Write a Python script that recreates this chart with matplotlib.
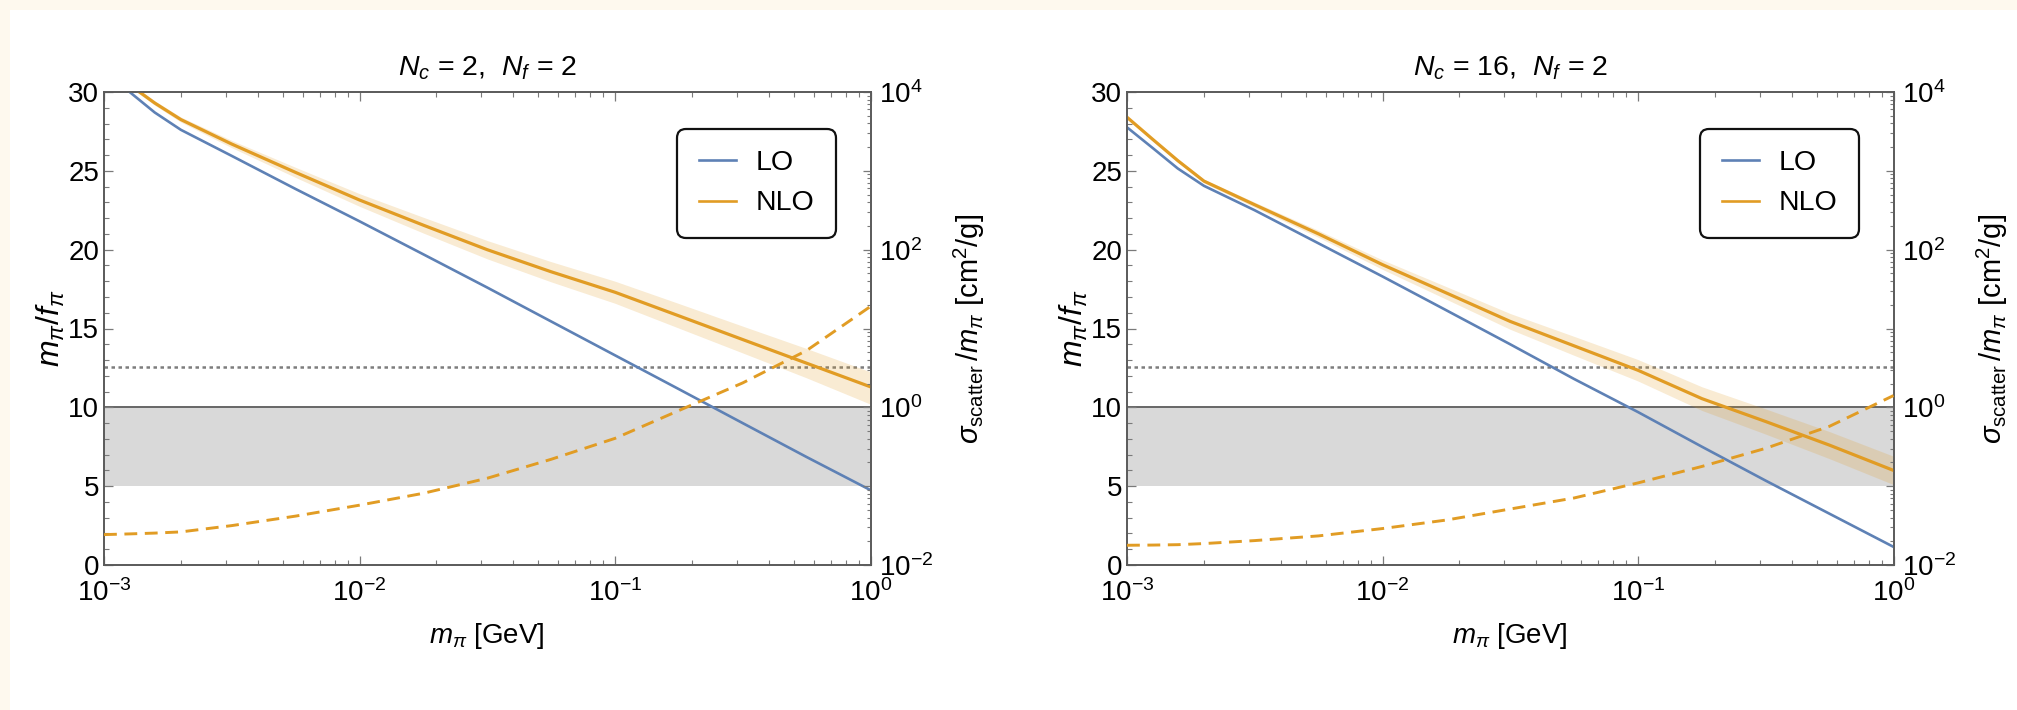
import numpy as np
import matplotlib
matplotlib.use("Agg")
import matplotlib.pyplot as plt
from matplotlib.lines import Line2D
from matplotlib.patches import Rectangle
from matplotlib.ticker import (FixedLocator, LogLocator, MultipleLocator,
                               NullFormatter, FuncFormatter, LogFormatterMathtext)

plt.rcParams["font.family"] = ["Liberation Sans", "DejaVu Sans"]
plt.rcParams["mathtext.fontset"] = "custom"
plt.rcParams["mathtext.rm"] = "Liberation Sans"
plt.rcParams["mathtext.it"] = "Liberation Sans:italic"
plt.rcParams["mathtext.bf"] = "Liberation Sans:bold"

# pion mass grid [GeV]
mass = [1e-3, 1.26e-3, 1.58e-3, 2e-3, 3.16e-3, 5.62e-3, 1e-2, 1.78e-2,
        3.16e-2, 5.62e-2, 0.1, 0.178, 0.316, 0.562, 1.0]

# N_c = 2, N_f = 2
lo_nc2 = [31.4, 30.0, 28.7, 27.6, 25.95, 23.85, 21.8, 19.7, 17.6, 15.45,
          13.3, 11.15, 9.0, 6.85, 4.75]
nlo_nc2 = [31.5, 30.45, 29.3, 28.25, 26.7, 24.9, 23.15, 21.55, 20.0, 18.6,
           17.3, 15.8, 14.3, 12.8, 11.3]
nlo_nc2_low = [31.4, 30.33, 29.16, 28.09, 26.47, 24.58, 22.75, 21.05, 19.42,
               17.96, 16.6, 15.02, 13.45, 11.87, 10.2]
nlo_nc2_high = [31.6, 30.57, 29.44, 28.41, 26.93, 25.22, 23.55, 22.05, 20.58,
                19.24, 18.0, 16.58, 15.15, 13.73, 12.25]
sigma_nc2 = [0.0243, 0.0248, 0.0254, 0.0263, 0.0316, 0.0417, 0.0574, 0.0813,
             0.126, 0.219, 0.404, 0.912, 2.04, 5.25, 19.05]

# N_c = 16, N_f = 2
lo_nc16 = [27.76, 26.45, 25.15, 24.05, 22.5, 20.4, 18.3, 16.15, 14.0, 11.8,
           9.7, 7.5, 5.35, 3.25, 1.15]
nlo_nc16 = [28.4, 27.0, 25.65, 24.35, 22.85, 21.0, 19.05, 17.25, 15.45, 13.9,
            12.35, 10.55, 9.1, 7.6, 6.0]
nlo_nc16_low = [28.32, 26.91, 25.55, 24.23, 22.69, 20.78, 18.75, 16.85, 14.95,
                13.3, 11.67, 9.8, 8.3, 6.74, 5.1]
nlo_nc16_high = [28.48, 27.09, 25.75, 24.47, 23.01, 21.22, 19.35, 17.65, 15.95,
                 14.5, 13.03, 11.3, 9.9, 8.46, 6.9]
sigma_nc16 = [0.0178, 0.0179, 0.0181, 0.0187, 0.0204, 0.0234, 0.0290, 0.0372,
              0.0513, 0.0708, 0.110, 0.178, 0.302, 0.575, 1.41]

titles = [r"$N_c$ = 2,  $N_f$ = 2", r"$N_c$ = 16,  $N_f$ = 2"]

# reference levels of m_pi/f_pi
perturbative_limit = 4 * np.pi
band_low, band_high = 5.0, 10.0

BLUE = "#5e81b5"
ORANGE = "#e19c24"
FRAME = "#5a5a5a"
TICK = "#7a7a7a"

W, H = 2017, 710
fig = plt.figure(figsize=(W / 100, H / 100), dpi=100)
fig.patch.set_facecolor("white")
cream = "#fef9ee"
fig.add_artist(Rectangle((0, 0), 10 / W, 1, transform=fig.transFigure,
                         color=cream, lw=0, zorder=-10))
fig.add_artist(Rectangle((0, 1 - 10 / H), 1, 10 / H, transform=fig.transFigure,
                         color=cream, lw=0, zorder=-10))

panels = [
    (titles[0], lo_nc2, nlo_nc2, nlo_nc2_low, nlo_nc2_high, sigma_nc2, 104),
    (titles[1], lo_nc16, nlo_nc16, nlo_nc16_low, nlo_nc16_high, sigma_nc16, 1127),
]

ax_w, ax_h = 766.5, 473
ax_bottom = 145
TICKSIZE = 20

for title, lo, nlo, nlo_low, nlo_high, sigma, left in panels:
    ax = fig.add_axes([left / W, ax_bottom / H, ax_w / W, ax_h / H])
    ax2 = ax.twinx()

    ax.set_xscale("log")
    ax.set_xlim(1e-3, 1.0)
    ax.set_ylim(0, 30)
    ax2.set_yscale("log")
    ax2.set_ylim(1e-2, 1e4)

    ax.axhspan(band_low, band_high, color="#d9d9d9", lw=0, zorder=0.5)
    ax.axhline(band_high, color="#666666", lw=1.4, zorder=1)
    ax.axhline(perturbative_limit, color="#7d7d7d", lw=1.8,
               ls=(0, (1.4, 1.4)), zorder=1)

    ax.fill_between(mass, nlo_low, nlo_high, color=ORANGE, alpha=0.2,
                    lw=0, zorder=2)
    ax.plot(mass, lo, color=BLUE, lw=1.9, zorder=3)
    ax.plot(mass, nlo, color=ORANGE, lw=2.3, zorder=3)
    ax2.plot(mass, sigma, color=ORANGE, lw=2.1, ls=(0, (4.4, 2.6)), zorder=3)

    # ticks
    ax.xaxis.set_major_locator(FixedLocator([1e-3, 1e-2, 1e-1, 1.0]))
    ax.xaxis.set_major_formatter(LogFormatterMathtext())
    ax.xaxis.set_minor_locator(LogLocator(base=10, subs=np.arange(2, 10), numticks=50))
    ax.xaxis.set_minor_formatter(NullFormatter())
    ax.yaxis.set_major_locator(MultipleLocator(5))
    ax.yaxis.set_minor_locator(MultipleLocator(1))
    ax.tick_params(axis="x", which="both", direction="in", top=True, bottom=True,
                   color=TICK, labelsize=TICKSIZE, pad=10)
    ax.tick_params(axis="y", which="both", direction="in", left=True, right=False,
                   color=TICK, labelsize=TICKSIZE, pad=3.5)
    ax.tick_params(which="major", length=6.5, width=0.9)
    ax.tick_params(which="minor", length=3.6, width=0.8)

    ax2.yaxis.set_major_locator(LogLocator(base=10, numticks=50))
    ax2.yaxis.set_major_formatter(FuncFormatter(
        lambda v, pos: (r"$10^{%d}$" % round(np.log10(v)))
        if round(np.log10(v)) % 2 == 0 else ""))
    ax2.yaxis.set_minor_locator(LogLocator(base=10, subs=np.arange(2, 10), numticks=50))
    ax2.yaxis.set_minor_formatter(NullFormatter())
    ax2.tick_params(axis="y", which="both", direction="in", color=TICK,
                    labelsize=TICKSIZE, pad=6)
    ax2.tick_params(which="major", length=5.5, width=0.9)
    ax2.tick_params(which="minor", length=3.0, width=0.8)

    for a in (ax, ax2):
        for sp in a.spines.values():
            sp.set_color(FRAME)
            sp.set_linewidth(1.2)

    ax.text(0.5, 1.051, title, transform=ax.transAxes, ha="center",
            va="center", fontsize=20.5)
    ax.text(0.5, -0.150, r"$m_\pi$ [GeV]", transform=ax.transAxes,
            ha="center", va="center", fontsize=20)
    ax.text(-0.069, 0.5, r"$m_\pi/f_\pi$", transform=ax.transAxes,
            ha="center", va="center", rotation=90, fontsize=23)
    ax.text(1.1285, 0.5, r"$\sigma_{\rm scatter}\,/m_\pi$ [cm$^2$/g]",
            transform=ax.transAxes, ha="center", va="center", rotation=90,
            fontsize=21)

    handles = [Line2D([], [], color=BLUE, lw=1.9),
               Line2D([], [], color=ORANGE, lw=1.9)]
    leg = ax2.legend(handles, ["LO", "NLO"], loc="upper left",
                     bbox_to_anchor=(0.748, 0.922), fontsize=20.5,
                     frameon=True, fancybox=True, framealpha=1,
                     edgecolor="#111111", handlelength=1.3,
                     handletextpad=0.7, labelspacing=0.5, borderpad=0.75,
                     borderaxespad=0)
    frame = leg.get_frame()
    frame.set_linewidth(1.6)
    frame.set_boxstyle("round,pad=0,rounding_size=0.32")
    leg.set_zorder(10)

fig.savefig("out.png", dpi=100, facecolor=fig.get_facecolor())
